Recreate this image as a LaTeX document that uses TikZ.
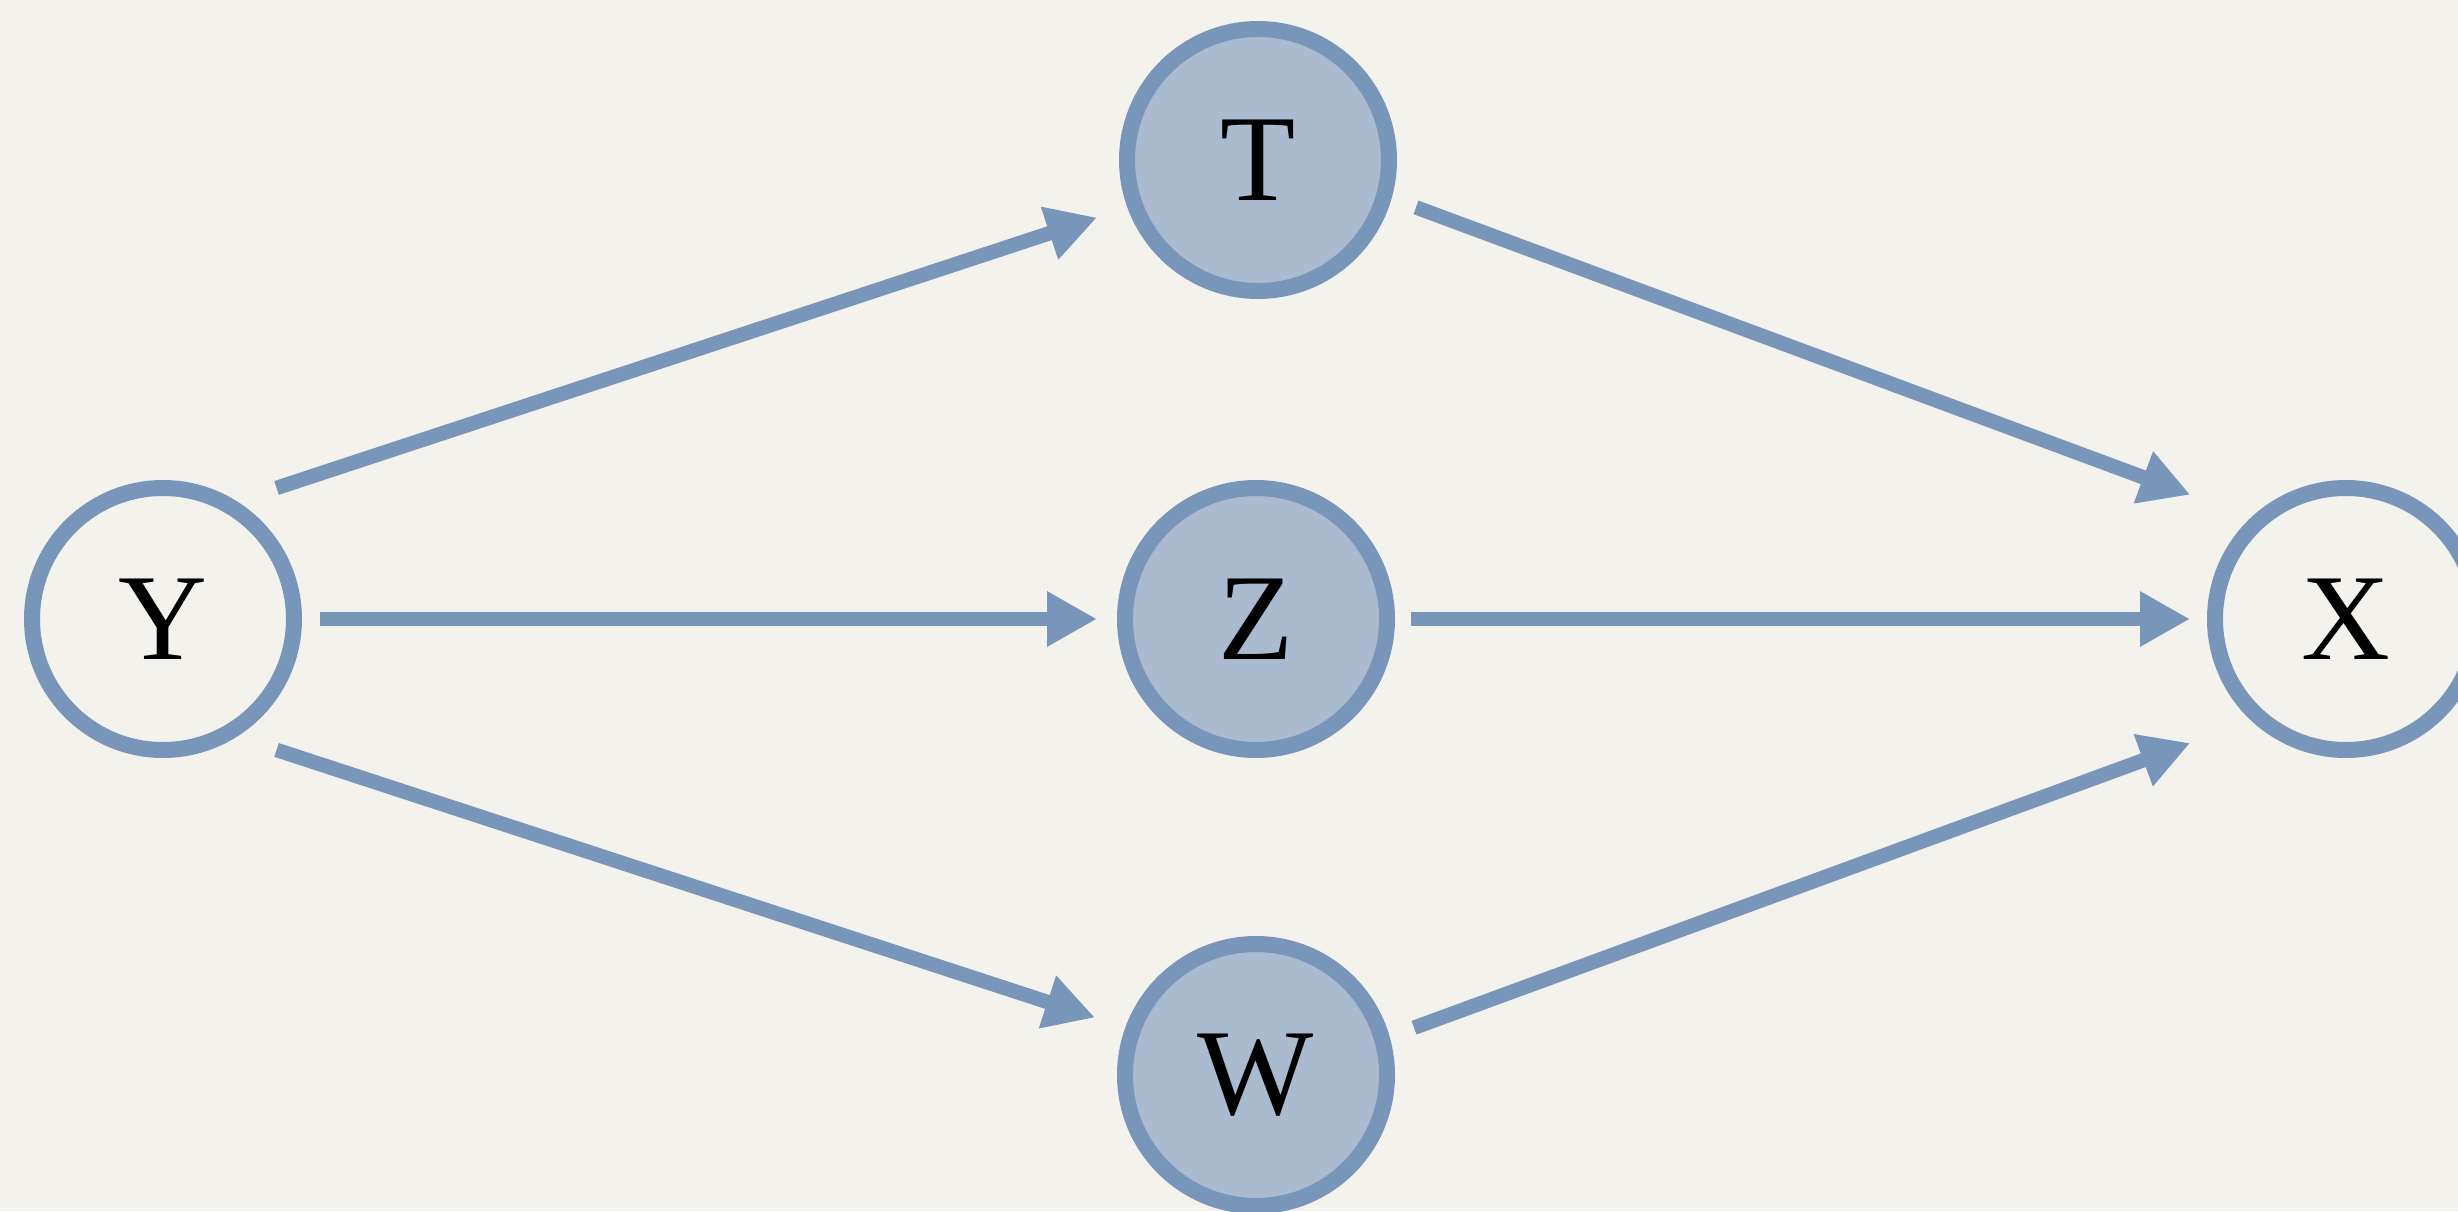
\documentclass[tikz,border=0pt]{standalone}
\usepackage{fontspec}
\setmainfont{Liberation Serif}
\definecolor{nodeblue}{RGB}{120,150,186}
\definecolor{nodefill}{RGB}{170,187,207}
\definecolor{paper}{RGB}{244,242,236}
\usetikzlibrary{arrows.meta}

\begin{document}
\begin{tikzpicture}[
  varnode/.style={circle, draw=nodeblue, line width=0.16cm, minimum size=2.62cm, inner sep=0pt, font=\fontsize{35}{42}\selectfont},
  hidnode/.style={varnode, fill=nodefill},
  link/.style={draw=nodeblue, line width=0.145cm, -{Triangle[length=0.5cm, width=0.52cm]}}
]
  \fill[paper] (0,0) rectangle (24.58,12.11);
  \clip (0,0) rectangle (24.58,12.11);

  \node[varnode] (y) at (1.63, 5.92) {Y};
  \node[hidnode] (t) at (12.58, 10.51) {T};
  \node[hidnode] (z) at (12.56, 5.92) {Z};
  \node[hidnode] (w) at (12.56, 1.36) {W};
  \node[varnode] (x) at (23.46, 5.92) {X};

  % paths from Y to X
  \draw[link, shorten <=0.42cm, shorten >=0.32cm] (y.58) -- (t.200);
  \draw[link, shorten <=0.18cm, shorten >=0.20cm] (y.east) -- (z.west);
  \draw[link, shorten <=0.42cm, shorten >=0.32cm] (y.-58) -- (w.160);
  \draw[link, shorten <=0.26cm, shorten >=0.65cm] (t.-16.3) -- (x.133);
  \draw[link, shorten <=0.16cm, shorten >=0.17cm] (z.east) -- (x.west);
  \draw[link, shorten <=0.26cm, shorten >=0.65cm] (w.16.3) -- (x.227);
\end{tikzpicture}
\end{document}
